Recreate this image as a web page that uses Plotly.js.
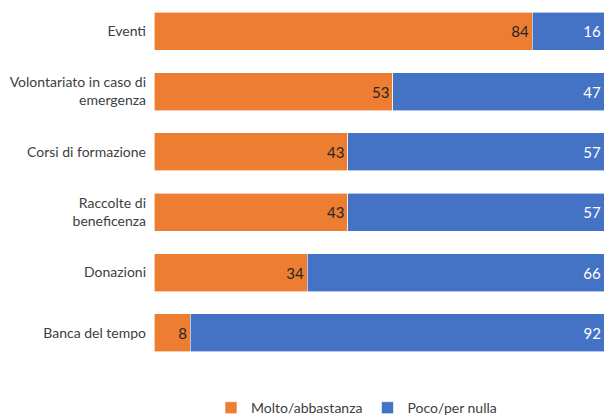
<!DOCTYPE html>
<html>
<head>
<meta charset="utf-8">
<script src="https://cdn.plot.ly/plotly-3.0.1.min.js"></script>
<style>
  html, body { margin: 0; padding: 0; background: #fff; }
  #chart { width: 605px; height: 416px; }
</style>
</head>
<body>
<div id="chart"></div>
<script>
// Categories listed top to bottom
const categories = [
  "Eventi",
  "Volontariato in caso di<br>emergenza",
  "Corsi di formazione",
  "Raccolte di<br>beneficenza",
  "Donazioni",
  "Banca del tempo"
];
const molto = [84, 53, 43, 43, 34, 8];
const poco = [16, 47, 57, 57, 66, 92];
const seriesNames = ["Molto/abbastanza", "Poco/per nulla"];

const fontFamily = "Lato, 'Noto Sans', sans-serif";

const traces = [
  {
    type: "bar",
    orientation: "h",
    name: seriesNames[0],
    y: categories,
    x: molto,
    text: molto.map(String),
    textposition: "inside",
    insidetextanchor: "end",
    textfont: { family: fontFamily, size: 15, color: "#262626" },
    marker: { color: "#ED7D31", line: { color: "#ffffff", width: 0.6 } },
    hoverinfo: "none"
  },
  {
    type: "bar",
    orientation: "h",
    name: seriesNames[1],
    y: categories,
    x: poco,
    text: poco.map(String),
    textposition: "inside",
    insidetextanchor: "end",
    textfont: { family: fontFamily, size: 15, color: "#ffffff" },
    marker: { color: "#4472C4", line: { color: "#ffffff", width: 0.6 } },
    hoverinfo: "none"
  }
];

const layout = {
  width: 605,
  height: 416,
  barmode: "stack",
  bargap: 0.37,
  margin: { l: 154, r: 1, t: 1, b: 53, autoexpand: false },
  paper_bgcolor: "#ffffff",
  plot_bgcolor: "#ffffff",
  font: { family: fontFamily, size: 14, color: "#404040" },
  xaxis: {
    range: [0, 100],
    visible: false,
    fixedrange: true
  },
  yaxis: {
    autorange: "reversed",
    showgrid: false,
    zeroline: false,
    showline: false,
    ticks: "",
    ticklabelstandoff: 7,
    tickfont: { family: fontFamily, size: 14, color: "#404040" },
    fixedrange: true
  },
  showlegend: true,
  legend: {
    orientation: "h",
    x: 0.45,
    xanchor: "center",
    yref: "container",
    y: 0.019,
    yanchor: "middle",
    traceorder: "normal",
    font: { family: fontFamily, size: 14, color: "#404040" },
    itemwidth: 30
  }
};

Plotly.newPlot("chart", traces, layout, { displayModeBar: false, staticPlot: true });
</script>
</body>
</html>
